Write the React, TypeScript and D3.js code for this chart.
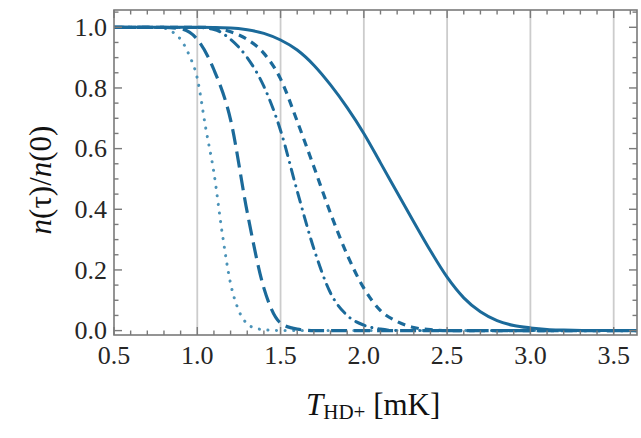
import * as d3 from "d3";
import { useEffect, useRef } from "react";

// temperatures (mK) and populations n(tau)/n(0) for each curve
const solidT = [0.5, 1.0, 1.2, 1.3, 1.4, 1.5, 1.6, 1.7, 1.8, 1.9, 2.0, 2.1, 2.2, 2.3, 2.4, 2.5, 2.6, 2.7, 2.8, 2.9, 3.0, 3.1, 3.2, 3.4, 3.64];
const solidN = [1.0, 1.0, 0.998, 0.992, 0.98, 0.958, 0.925, 0.875, 0.81, 0.735, 0.65, 0.553, 0.455, 0.358, 0.263, 0.176, 0.108, 0.062, 0.033, 0.017, 0.009, 0.004, 0.002, 0.0, 0.0];

const shortDashT = [0.5, 1.0, 1.1, 1.2, 1.3, 1.4, 1.5, 1.6, 1.7, 1.8, 1.9, 2.0, 2.1, 2.2, 2.3, 2.4, 2.5, 3.64];
const shortDashN = [1.0, 1.0, 0.998, 0.985, 0.96, 0.914, 0.83, 0.69, 0.54, 0.387, 0.25, 0.14, 0.066, 0.03, 0.01, 0.003, 0.0, 0.0];

const dashDotT = [0.5, 1.0, 1.1, 1.2, 1.3, 1.4, 1.5, 1.6, 1.7, 1.8, 1.9, 2.0, 2.1, 2.2, 3.64];
const dashDotN = [1.0, 0.999, 0.993, 0.96, 0.9, 0.805, 0.66, 0.46, 0.27, 0.124, 0.05, 0.018, 0.005, 0.0, 0.0];

const longDashT = [0.5, 0.8, 0.9, 1.0, 1.1, 1.2, 1.3, 1.4, 1.5, 1.6, 1.7, 3.64];
const longDashN = [1.0, 1.0, 0.995, 0.96, 0.86, 0.695, 0.39, 0.14, 0.025, 0.005, 0.0, 0.0];

const dottedT = [0.5, 0.7, 0.8, 0.85, 0.9, 0.95, 1.0, 1.05, 1.1, 1.15, 1.2, 1.25, 1.3, 1.35, 1.4, 1.5, 3.64];
const dottedN = [1.0, 1.0, 0.997, 0.985, 0.96, 0.91, 0.832, 0.67, 0.52, 0.32, 0.155, 0.065, 0.022, 0.008, 0.003, 0.0, 0.0];

const xTicks = [0.5, 1.0, 1.5, 2.0, 2.5, 3.0, 3.5];
const yTicks = [0.0, 0.2, 0.4, 0.6, 0.8, 1.0];

const width = 641;
const height = 438;
const plot = { left: 114, right: 637, top: 10, bottom: 335 };

const App = () => {
  const svgRef = useRef<SVGSVGElement | null>(null);

  useEffect(() => {
    const svg = d3.select(svgRef.current);
    svg.selectAll("*").remove();

    const x = d3.scaleLinear().domain([0.5, 3.64]).range([plot.left, plot.right]);
    const y = d3.scaleLinear().domain([-0.0145, 1.057]).range([plot.bottom, plot.top]);

    svg.append("rect").attr("width", width).attr("height", height).attr("fill", "#fff");

    // vertical grid lines
    svg
      .selectAll(".grid")
      .data(xTicks.filter((t) => t > 0.5))
      .enter()
      .append("line")
      .attr("x1", (d) => x(d))
      .attr("x2", (d) => x(d))
      .attr("y1", plot.top)
      .attr("y2", plot.bottom)
      .attr("stroke", "#cccccc")
      .attr("stroke-width", 1.8);

    svg
      .append("clipPath")
      .attr("id", "plotclip")
      .append("rect")
      .attr("x", plot.left)
      .attr("y", plot.top)
      .attr("width", plot.right - plot.left)
      .attr("height", plot.bottom - plot.top);

    const line = d3
      .line<[number, number]>()
      .x((d) => x(d[0]))
      .y((d) => y(d[1]))
      .curve(d3.curveMonotoneX);

    const series = [
      { t: dottedT, n: dottedN, dash: "0.1,8.5", cap: "round", color: "#4b93b8", w: 3.0 },
      { t: longDashT, n: longDashN, dash: "16,7", cap: "butt", color: "#1b6a9a", w: 3.2 },
      { t: dashDotT, n: dashDotN, dash: "10,7,0.1,7", cap: "round", color: "#1b6a9a", w: 3.0 },
      { t: shortDashT, n: shortDashN, dash: "8,6", cap: "butt", color: "#1b6a9a", w: 3.2 },
      { t: solidT, n: solidN, dash: null, cap: "butt", color: "#1b6a9a", w: 3.0 },
    ];

    const g = svg.append("g").attr("clip-path", "url(#plotclip)");
    series.forEach((s) => {
      const pts = s.t.map((t, i) => [t, s.n[i]] as [number, number]);
      g.append("path")
        .attr("d", line(pts))
        .attr("fill", "none")
        .attr("stroke", s.color)
        .attr("stroke-width", s.w)
        .attr("stroke-linecap", s.cap)
        .attr("stroke-linejoin", "round")
        .attr("stroke-dasharray", s.dash);
    });

    // frame
    const frame = "#7a7a7a";
    svg
      .append("rect")
      .attr("x", plot.left)
      .attr("y", plot.top)
      .attr("width", plot.right - plot.left)
      .attr("height", plot.bottom - plot.top)
      .attr("fill", "none")
      .attr("stroke", frame)
      .attr("stroke-width", 1.6);

    // ticks pointing inward
    const xMinor = d3.range(5, 37).map((v) => v / 10);
    const yMinor = d3.range(0, 22).map((v) => v / 20);
    const ticks = svg.append("g").attr("stroke", frame).attr("stroke-width", 1.4);
    xMinor.forEach((t) => {
      const major = Math.abs(t * 2 - Math.round(t * 2)) < 1e-6;
      const len = major ? 8 : 4.5;
      ticks.append("line").attr("x1", x(t)).attr("x2", x(t)).attr("y1", plot.bottom).attr("y2", plot.bottom - len);
      ticks.append("line").attr("x1", x(t)).attr("x2", x(t)).attr("y1", plot.top).attr("y2", plot.top + len);
    });
    yMinor.forEach((v) => {
      const major = Math.abs(v * 5 - Math.round(v * 5)) < 1e-6;
      const len = major ? 8 : 4.5;
      ticks.append("line").attr("x1", plot.left).attr("x2", plot.left + len).attr("y1", y(v)).attr("y2", y(v));
      ticks.append("line").attr("x1", plot.right).attr("x2", plot.right - len).attr("y1", y(v)).attr("y2", y(v));
    });

    const font = "'Liberation Serif', 'Times New Roman', serif";

    svg
      .selectAll(".xlab")
      .data(xTicks)
      .enter()
      .append("text")
      .attr("x", (d) => x(d))
      .attr("y", 364)
      .attr("text-anchor", "middle")
      .attr("font-family", font)
      .attr("font-size", 26)
      .attr("fill", "#262626")
      .text((d) => d.toFixed(1));

    svg
      .selectAll(".ylab")
      .data(yTicks)
      .enter()
      .append("text")
      .attr("x", 107)
      .attr("y", (d) => y(d))
      .attr("dy", "0.34em")
      .attr("text-anchor", "end")
      .attr("font-family", font)
      .attr("font-size", 26)
      .attr("fill", "#262626")
      .text((d) => d.toFixed(1));

    // x title
    const xt = svg
      .append("text")
      .attr("x", 306)
      .attr("y", 415)
      .attr("font-family", font)
      .attr("font-size", 31)
      .attr("fill", "#111");
    xt.append("tspan").attr("font-style", "italic").text("T");
    xt.append("tspan").attr("font-size", 21).attr("dy", 4).text("HD+");
    xt.append("tspan").attr("dy", -4).text(" [mK]");

    // y title
    const yt = svg
      .append("text")
      .attr("transform", "translate(51,180) rotate(-90)")
      .attr("text-anchor", "middle")
      .attr("font-family", font)
      .attr("font-size", 31)
      .attr("fill", "#111");
    yt.append("tspan").attr("font-style", "italic").text("n");
    yt.append("tspan").text("(τ)/");
    yt.append("tspan").attr("font-style", "italic").text("n");
    yt.append("tspan").text("(0)");
  }, []);

  return (
    <svg
      ref={svgRef}
      width={width}
      height={height}
      style={{ position: "absolute", left: 0, top: 0, display: "block" }}
    />
  );
};

export default App;
